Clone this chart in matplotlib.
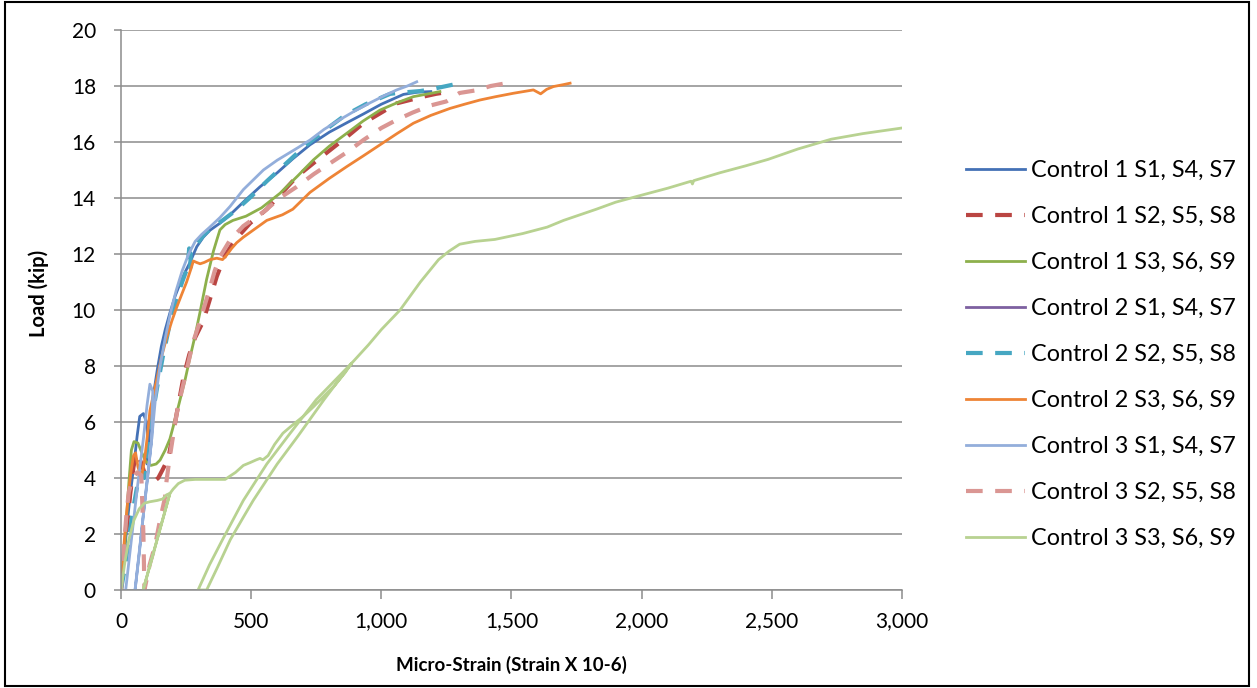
import numpy as np
import matplotlib
matplotlib.use('Agg')
import matplotlib.pyplot as plt
from matplotlib.patches import Rectangle

plt.rcParams['font.family'] = ['Lato', 'DejaVu Sans']

# strain (micro-strain) and load (kip)
c1_s1_x = [0, 12, 25, 38, 50, 62, 72, 86, 98, 104, 100, 106, 114, 125, 140, 155, 170, 188, 208, 227, 246, 265,
           291, 316, 342, 380, 419, 475, 534, 600, 660, 726, 800, 870, 931, 1000, 1085, 1140, 1190]
c1_s1_y = [0, 1.2, 2.5, 3.6, 4.5, 5.5, 6.2, 6.3, 6.0, 5.4, 4.5, 5.2, 6.2, 7.0, 7.9, 8.7, 9.3, 9.9, 10.5, 10.95,
           11.35, 11.7, 12.26, 12.6, 12.85, 13.1, 13.4, 13.9, 14.4, 14.9, 15.4, 15.9, 16.35, 16.7, 17.0, 17.35,
           17.7, 17.78, 17.8]

c1_s2_x = [0, 10, 22, 35, 48, 60, 75, 90, 110, 130, 143, 160, 182, 200, 220, 240, 262, 284, 316, 342, 368, 400,
           438, 496, 560, 620, 675, 740, 803, 870, 931, 1000, 1059, 1110, 1161, 1210, 1250]
c1_s2_y = [0, 1.0, 2.2, 3.4, 4.4, 4.9, 4.6, 4.2, 4.0, 3.9, 4.0, 4.3, 4.7, 5.6, 6.6, 7.6, 8.4, 9.0, 9.6, 10.4,
           11.2, 11.96, 12.5, 13.1, 13.6, 14.2, 14.76, 15.25, 15.71, 16.2, 16.67, 17.05, 17.38, 17.5, 17.62,
           17.72, 17.78]

c1_s3_x = [0, 10, 20, 30, 40, 50, 65, 80, 95, 115, 135, 150, 170, 188, 208, 227, 246, 265, 285, 303, 316, 329,
           342, 355, 368, 380, 400, 430, 480, 540, 611, 680, 739, 800, 867, 930, 995, 1060, 1123, 1180, 1225]
c1_s3_y = [0, 1.0, 2.4, 3.8, 5.0, 5.3, 5.25, 4.9, 4.6, 4.45, 4.5, 4.64, 5.0, 5.4, 6.1, 6.8, 7.5, 8.3, 9.1, 9.9,
           10.5, 11.1, 11.6, 12.1, 12.5, 12.86, 13.05, 13.2, 13.35, 13.65, 14.17, 14.8, 15.36, 15.85, 16.31,
           16.75, 17.14, 17.4, 17.62, 17.72, 17.8]

c2_s1_x = []
c2_s1_y = []

c2_s2_x = [0, 15, 30, 45, 60, 75, 90, 105, 120, 140, 160, 185, 210, 235, 255, 262, 266, 268, 275, 295, 320, 350,
           390, 440, 500, 560, 630, 700, 780, 860, 940, 1034, 1072, 1150, 1200, 1276, 1315]
c2_s2_y = [0, 0.8, 1.8, 2.8, 3.6, 4.2, 4.0, 5.0, 6.2, 7.3, 8.3, 9.4, 10.3, 11.0, 11.5, 12.2, 11.5, 12.1, 12.2,
           12.4, 12.7, 12.95, 13.2, 13.55, 14.05, 14.6, 15.2, 15.8, 16.4, 16.95, 17.35, 17.72, 17.76, 17.82,
           17.9, 18.05, 18.1]

c2_s3_x = [0, 8, 18, 28, 38, 48, 56, 65, 78, 90, 100, 111, 125, 137, 155, 175, 195, 214, 235, 252, 268, 278, 290,
           304, 320, 342, 368, 390, 406, 425, 444, 470, 500, 560, 620, 660, 726, 800, 867, 930, 995, 1060, 1123,
           1190, 1264, 1320, 1379, 1440, 1507, 1584, 1600, 1612, 1635, 1661, 1700, 1725]
c2_s3_y = [0, 1.2, 2.4, 3.4, 4.2, 4.8, 4.9, 4.4, 4.0, 4.6, 5.4, 6.4, 7.0, 7.5, 8.3, 9.0, 9.6, 10.1, 10.6, 11.0,
           11.45, 11.75, 11.7, 11.65, 11.7, 11.8, 11.85, 11.8, 11.96, 12.2, 12.4, 12.6, 12.8, 13.2, 13.4, 13.6,
           14.2, 14.7, 15.12, 15.5, 15.9, 16.3, 16.67, 16.95, 17.2, 17.35, 17.5, 17.62, 17.74, 17.86, 17.78,
           17.72, 17.88, 17.98, 18.05, 18.1]

c3_s1_x = [18, 40, 62, 86, 100, 111, 122, 118, 86, 54, 70, 86, 102, 118, 132, 150, 170, 190, 212, 235, 260, 285,
           310, 340, 380, 419, 470, 547, 600, 680, 726, 780, 841, 900, 957, 1010, 1059, 1100, 1136]
c3_s1_y = [0, 1.8, 3.6, 5.4, 6.6, 7.35, 7.1, 5.4, 2.7, 0, 1.3, 2.7, 4.0, 5.4, 6.8, 8.0, 9.0, 9.9, 10.7, 11.4,
           12.0, 12.45, 12.7, 12.95, 13.3, 13.7, 14.3, 15.0, 15.35, 15.8, 16.07, 16.45, 16.8, 17.12, 17.4,
           17.65, 17.86, 18.0, 18.15]

c3_s2_x = [0, 8, 15, 22, 30, 45, 62, 78, 86, 90, 110, 131, 150, 169, 175, 185, 200, 214, 233, 252, 268, 284, 300,
           316, 342, 360, 380, 419, 470, 547, 610, 675, 740, 803, 870, 931, 1000, 1059, 1120, 1187, 1250, 1300,
           1367, 1420, 1480]
c3_s2_y = [0, 1.0, 2.0, 2.8, 3.5, 4.0, 4.2, 4.1, 2.0, 0, 0.9, 1.6, 2.5, 3.3, 3.9, 4.6, 5.5, 6.3, 7.1, 7.86, 8.5,
           9.05, 9.5, 10.0, 10.8, 11.4, 11.9, 12.5, 13.0, 13.5, 14.0, 14.4, 14.85, 15.24, 15.65, 16.07, 16.5,
           16.79, 17.05, 17.3, 17.45, 17.75, 17.85, 18.0, 18.1]

c3_s3_x = [0, 15, 30, 50, 70, 90, 110, 140, 160, 175, 188, 85, 188, 200, 220, 245, 285, 350, 400, 419, 440, 470,
           496, 520, 534, 545, 565, 590, 622, 660, 700, 740, 777, 820, 860, 886,
           750, 650, 560, 470, 430, 390, 340, 296, 329, 370, 420, 470, 508, 600, 680, 780, 886,
           950, 1000, 1072, 1150, 1220, 1260, 1301, 1360, 1436, 1543, 1637, 1700, 1826, 1900, 1987, 2100, 2190,
           2195, 2200, 2300, 2400, 2486, 2600, 2728, 2850, 3000]
c3_s3_y = [0, 1.0, 1.8, 2.5, 2.9, 3.1, 3.15, 3.2, 3.25, 3.4, 3.45, 0, 3.45, 3.6, 3.8, 3.92, 3.95, 3.95, 3.95, 4.07,
           4.2, 4.45, 4.55, 4.65, 4.7, 4.65, 4.8, 5.2, 5.6, 5.9, 6.2, 6.55, 6.9, 7.3, 7.75, 8.1,
           6.8, 5.6, 4.5, 3.2, 2.5, 1.8, 0.9, 0, 0, 0.8, 1.8, 2.6, 3.2, 4.5, 5.5, 6.8, 8.1,
           8.75, 9.3, 10.0, 11.0, 11.8, 12.1, 12.35, 12.45, 12.52, 12.73, 12.96, 13.2, 13.6, 13.85, 14.07, 14.35,
           14.6, 14.5, 14.62, 14.9, 15.15, 15.38, 15.75, 16.1, 16.3, 16.5]

labels = ['Control 1 S1, S4, S7', 'Control 1 S2, S5, S8', 'Control 1 S3, S6, S9',
          'Control 2 S1, S4, S7', 'Control 2 S2, S5, S8', 'Control 2 S3, S6, S9',
          'Control 3 S1, S4, S7', 'Control 3 S2, S5, S8', 'Control 3 S3, S6, S9']
colors = ['#4471B6', '#BA4542', '#8DB04C', '#7D60A0', '#46A7C2', '#EE8436', '#93AEDB', '#DA9693', '#B8D291']
dashed = [False, True, False, False, True, False, False, True, False]

xs = [c1_s1_x, c1_s2_x, c1_s3_x, c2_s1_x, c2_s2_x, c2_s3_x, c3_s1_x, c3_s2_x, c3_s3_x]
ys = [c1_s1_y, c1_s2_y, c1_s3_y, c2_s1_y, c2_s2_y, c2_s3_y, c3_s1_y, c3_s2_y, c3_s3_y]

x_ticks = [0, 500, 1000, 1500, 2000, 2500, 3000]
x_tick_labels = ['0', '500', '1,000', '1,500', '2,000', '2,500', '3,000']
y_ticks = [0, 2, 4, 6, 8, 10, 12, 14, 16, 18, 20]

fig = plt.figure(figsize=(12.57, 6.88), dpi=100)
ax = fig.add_axes([121 / 1257, 1 - 590 / 688, (902 - 121) / 1257, (590 - 30) / 688])

for x, y, lab, col, d in zip(xs, ys, labels, colors, dashed):
    if d:
        ax.plot(x, y, color=col, lw=3.0, dashes=(4, 3), label=lab, solid_joinstyle='round')
    else:
        ax.plot(x, y, color=col, lw=2.0, label=lab, solid_joinstyle='round')

ax.set_xlim(0, 3000)
ax.set_ylim(0, 20)
ax.set_xticks(x_ticks)
ax.set_xticklabels(x_tick_labels)
ax.set_yticks(y_ticks)

grid_col = '#8C8C8C'
ax.grid(axis='y', color=grid_col, lw=1.1)
ax.set_axisbelow(True)
for s in ['top', 'right']:
    ax.spines[s].set_visible(False)
for s in ['left', 'bottom']:
    ax.spines[s].set_color(grid_col)
    ax.spines[s].set_linewidth(1.1)
ax.tick_params(axis='both', colors=grid_col, labelcolor='black', labelsize=15, width=1.1)
ax.tick_params(axis='x', length=6.5, pad=9)
ax.tick_params(axis='y', length=5, pad=13)

ax.set_xlabel('Micro-Strain (Strain X 10-6)', fontsize=13.5, fontweight='bold')
ax.set_ylabel('Load (kip)', fontsize=14.5, fontweight='bold')
ax.xaxis.set_label_coords(0.5, -0.118)
ax.yaxis.set_label_coords(-0.092, 0.529)

leg = ax.legend(loc='upper left', bbox_to_anchor=(966 / 1257, 1 - 160 / 688), bbox_transform=fig.transFigure,
                frameon=False, fontsize=16.8, handlelength=2.52, handletextpad=0.26, labelspacing=1.07,
                borderpad=0, borderaxespad=0)

fig.add_artist(Rectangle((5 / 1257, 2 / 688), 1244 / 1257, 684 / 688, transform=fig.transFigure, fill=False,
                         ec='black', lw=1.5))

fig.savefig('out.png', dpi=100)
